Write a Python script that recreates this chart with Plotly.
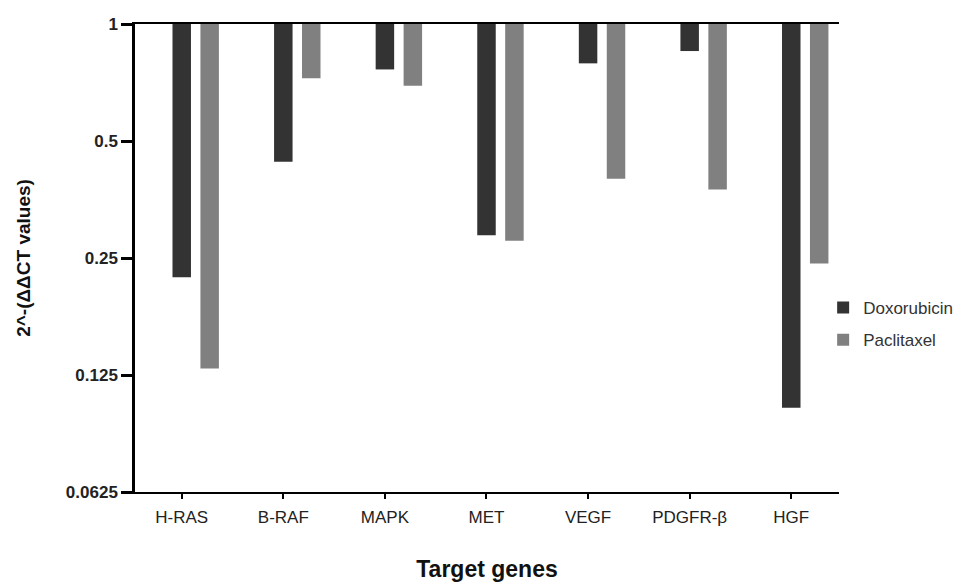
import plotly.graph_objects as go

genes = ["H-RAS", "B-RAF", "MAPK", "MET", "VEGF", "PDGFR-β", "HGF"]
doxorubicin = [0.223, 0.442, 0.764, 0.286, 0.792, 0.852, 0.103]
paclitaxel = [0.130, 0.725, 0.694, 0.277, 0.400, 0.375, 0.242]
ytick_vals = [0.0625, 0.125, 0.25, 0.5, 1]
ytick_text = ["0.0625", "0.125", "0.25", "0.5", "1"]

FONT = "Liberation Sans, Arial, sans-serif"

fig = go.Figure()
fig.add_trace(go.Bar(
    x=genes, y=[v - 1 for v in doxorubicin], base=1,
    name="Doxorubicin", marker=dict(color="#333333", line=dict(width=0)),
    width=0.182, offset=-0.091, legendgroup="a",
    customdata=doxorubicin, hovertemplate="%{x}: %{customdata}<extra>Doxorubicin</extra>",
))
fig.add_trace(go.Bar(
    x=genes, y=[v - 1 for v in paclitaxel], base=1,
    name="Paclitaxel", marker=dict(color="#808080", line=dict(width=0)),
    width=0.182, offset=0.184, legendgroup="b",
    customdata=paclitaxel, hovertemplate="%{x}: %{customdata}<extra>Paclitaxel</extra>",
))

fig.update_layout(
    width=965, height=584,
    margin=dict(l=135, r=126, t=24, b=92, autoexpand=False),
    plot_bgcolor="white", paper_bgcolor="white",
    barmode="overlay",
    font=dict(family=FONT, color="#222222"),
    legend=dict(
        xref="container", x=0.853, xanchor="left",
        y=0.4315, yanchor="top",
        font=dict(size=17, family=FONT, color="#333333"),
        traceorder="grouped", tracegroupgap=7,
        bgcolor="rgba(0,0,0,0)",
    ),
    xaxis=dict(
        type="category", range=[-0.46, 6.47], automargin=False,
        showline=True, linecolor="black", linewidth=2, mirror=True,
        ticks="outside", ticklen=5, tickwidth=2, tickcolor="black",
        tickfont=dict(size=17, family=FONT, color="#222222"),
        ticklabelstandoff=4,
        showgrid=False, zeroline=False,
        title=dict(text="<b>Target genes</b>", font=dict(size=23, family=FONT, color="#111111"), standoff=34),
    ),
    yaxis=dict(
        type="log", range=[-1.20412, 0], automargin=False,
        tickvals=ytick_vals, ticktext=ytick_text,
        showline=True, linecolor="black", linewidth=2.5, mirror=False,
        ticks="outside", ticklen=11, tickwidth=2.5, tickcolor="black",
        tickfont=dict(size=17, family=FONT, color="#222222", weight="bold"),
        showgrid=False, zeroline=False,
        title=dict(text="<b>2^-(ΔΔCT values)</b>", font=dict(size=19, family=FONT, color="#111111"), standoff=31),
    ),
)

# remove the default page margin so the figure fills the 965x584 window exactly
fig.write_html(
    "out.html",
    config={"displayModeBar": False},
    post_script="document.body.style.margin='0';document.body.style.overflow='hidden';",
)
